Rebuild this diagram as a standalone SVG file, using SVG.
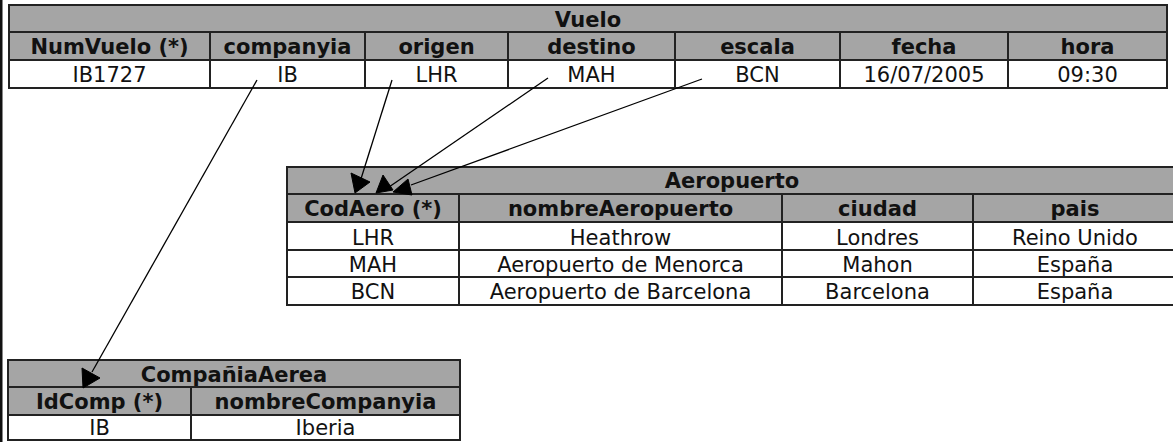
<svg xmlns="http://www.w3.org/2000/svg" width="1173" height="442" viewBox="0 0 1173 442">
<style>
.bg{fill:#ffffff}
.hd{fill:#a5a5a5;stroke:#222;stroke-width:2}
.cell{fill:#ffffff;stroke:#222;stroke-width:2}
.sep{stroke:#222;stroke-width:2}
.b{font-family:"DejaVu Sans",Verdana,sans-serif;font-weight:bold;font-size:21px;fill:#111;text-anchor:middle}
.r{font-family:"DejaVu Sans",Verdana,sans-serif;font-size:21px;fill:#111;text-anchor:middle}
.ln{stroke:#000;stroke-width:1.3;fill:none}
.ah{fill:#000;stroke:#000;stroke-width:1}
</style>
<rect class="bg" x="0" y="0" width="1173" height="442"/>
<rect x="0" y="0" width="2.5" height="442" fill="#111"/>

<g id="vuelo">
<rect class="hd" x="9" y="5" width="1158" height="27"/>
<rect class="hd" x="9" y="32" width="1158" height="28"/>
<rect class="cell" x="9" y="60" width="1158" height="28"/>
<g class="sep">
<line x1="210" y1="32" x2="210" y2="88"/>
<line x1="365" y1="32" x2="365" y2="88"/>
<line x1="508" y1="32" x2="508" y2="88"/>
<line x1="675" y1="32" x2="675" y2="88"/>
<line x1="840" y1="32" x2="840" y2="88"/>
<line x1="1008" y1="32" x2="1008" y2="88"/>
</g>
<text class="b" x="588" y="26.5">Vuelo</text>
<text class="b" x="109.5" y="54">NumVuelo (*)</text>
<text class="b" x="287.5" y="54">companyia</text>
<text class="b" x="436.5" y="54">origen</text>
<text class="b" x="591.5" y="54">destino</text>
<text class="b" x="757.5" y="54">escala</text>
<text class="b" x="924" y="54">fecha</text>
<text class="b" x="1087.5" y="54">hora</text>
<text class="r" x="109.5" y="82">IB1727</text>
<text class="r" x="287.5" y="82">IB</text>
<text class="r" x="436.5" y="82">LHR</text>
<text class="r" x="591.5" y="82">MAH</text>
<text class="r" x="757.5" y="82">BCN</text>
<text class="r" x="924" y="82">16/07/2005</text>
<text class="r" x="1087.5" y="82">09:30</text>
</g>

<g id="aeropuerto">
<rect class="hd" x="287" y="167" width="892" height="27"/>
<rect class="hd" x="287" y="194" width="892" height="28"/>
<rect class="cell" x="287" y="222" width="892" height="28"/>
<rect class="cell" x="287" y="250" width="892" height="27"/>
<rect class="cell" x="287" y="277" width="892" height="28"/>
<g class="sep">
<line x1="459" y1="194" x2="459" y2="305"/>
<line x1="782" y1="194" x2="782" y2="305"/>
<line x1="973" y1="194" x2="973" y2="305"/>
</g>
<text class="b" x="732" y="188">Aeropuerto</text>
<text class="b" x="373" y="216">CodAero (*)</text>
<text class="b" x="620.5" y="216">nombreAeropuerto</text>
<text class="b" x="877.5" y="216">ciudad</text>
<text class="b" x="1075" y="216">pais</text>
<text class="r" x="373" y="245">LHR</text>
<text class="r" x="620.5" y="245">Heathrow</text>
<text class="r" x="877.5" y="245">Londres</text>
<text class="r" x="1075" y="245">Reino Unido</text>
<text class="r" x="373" y="271.5">MAH</text>
<text class="r" x="620.5" y="271.5">Aeropuerto de Menorca</text>
<text class="r" x="877.5" y="271.5">Mahon</text>
<text class="r" x="1075" y="271.5">España</text>
<text class="r" x="373" y="298.5">BCN</text>
<text class="r" x="620.5" y="298.5">Aeropuerto de Barcelona</text>
<text class="r" x="877.5" y="298.5">Barcelona</text>
<text class="r" x="1075" y="298.5">España</text>
</g>

<g id="companiaaerea">
<rect class="hd" x="8" y="360" width="452" height="27"/>
<rect class="hd" x="8" y="387" width="452" height="28"/>
<rect class="cell" x="8" y="415" width="452" height="25"/>
<line class="sep" x1="191" y1="387" x2="191" y2="440"/>
<text class="b" x="234" y="381.5">CompañiaAerea</text>
<text class="b" x="99.5" y="408.5">IdComp (*)</text>
<text class="b" x="325.5" y="408.5">nombreCompanyia</text>
<text class="r" x="99.5" y="435">IB</text>
<text class="r" x="325.5" y="435">Iberia</text>
</g>

<g id="connectors">
<line class="ln" x1="257" y1="80" x2="92" y2="372"/>
<polygon class="ah" points="82,368 100,378 83,388"/>
<line class="ln" x1="392" y1="80" x2="360" y2="182"/>
<polygon class="ah" points="351,173 370,182 355,193"/>
<line class="ln" x1="548" y1="78" x2="389" y2="187"/>
<polygon class="ah" points="376,193 383,175 393,190"/>
<line class="ln" x1="702" y1="79" x2="411" y2="185"/>
<polygon class="ah" points="393,192 408,179 412,195"/>
</g>
</svg>
